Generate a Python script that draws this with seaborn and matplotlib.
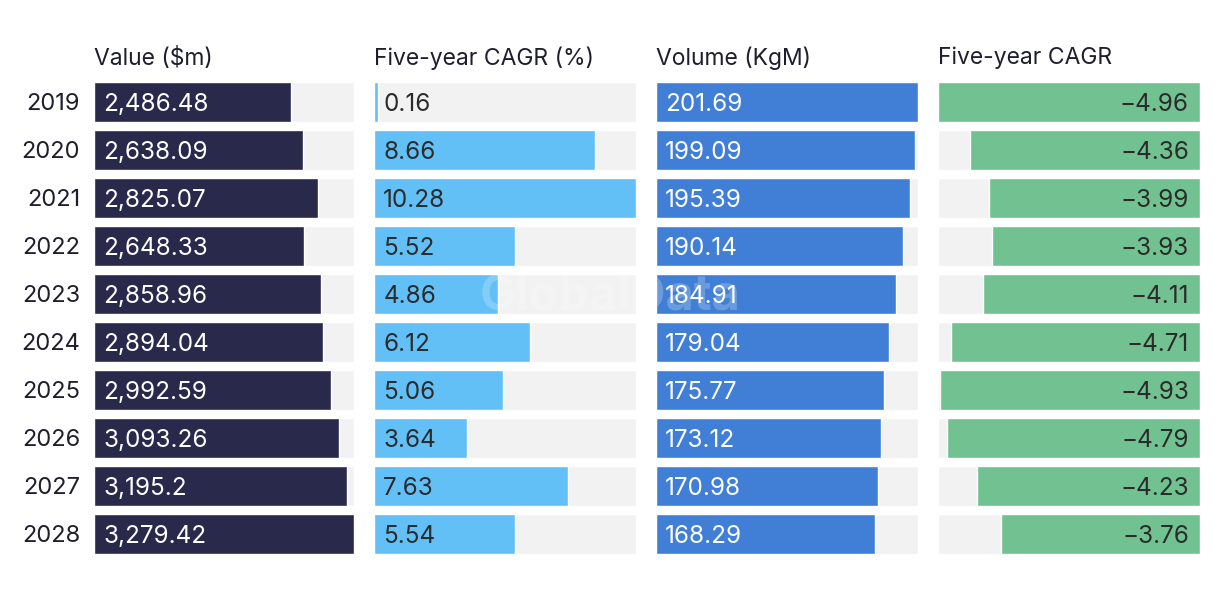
import matplotlib
matplotlib.use("Agg")
import matplotlib.pyplot as plt
import seaborn as sns
import pandas as pd

years = ["2019", "2020", "2021", "2022", "2023", "2024", "2025", "2026", "2027", "2028"]
value_m = [2486.48, 2638.09, 2825.07, 2648.33, 2858.96, 2894.04, 2992.59, 3093.26, 3195.2, 3279.42]
value_labels = ["2,486.48", "2,638.09", "2,825.07", "2,648.33", "2,858.96", "2,894.04",
                "2,992.59", "3,093.26", "3,195.2", "3,279.42"]
value_cagr = [0.16, 8.66, 10.28, 5.52, 4.86, 6.12, 5.06, 3.64, 7.63, 5.54]
volume = [201.69, 199.09, 195.39, 190.14, 184.91, 179.04, 175.77, 173.12, 170.98, 168.29]
volume_cagr = [-4.96, -4.36, -3.99, -3.93, -4.11, -4.71, -4.93, -4.79, -4.23, -3.76]

titles = ["Value ($m)", "Five-year CAGR (%)", "Volume (KgM)", "Five-year CAGR"]
colors = ["#29294c", "#62c0f7", "#417fd6", "#72c291"]
text_colors = ["white", "#2b2b2b", "white", "#2b2b2b"]

sns.set_theme(style="white")
plt.rcParams["font.family"] = ["Inter", "DejaVu Sans"]

W, H = 1220, 596
fig = plt.figure(figsize=(W / 100, H / 100), dpi=100)

lefts = [94, 374, 656, 938]
widths = [260, 262, 262, 262]
ax_top = 78
ax_bot = 558

series = [
    (value_m, value_labels),
    (value_cagr, [f"{v:.2f}" for v in value_cagr]),
    (volume, [f"{v:.2f}" for v in volume]),
    (volume_cagr, [f"\u2212{abs(v):.2f}" for v in volume_cagr]),
]

for i, ((vals, labels), title) in enumerate(zip(series, titles)):
    ax = fig.add_axes([lefts[i] / W, (H - ax_bot) / H, widths[i] / W, (ax_bot - ax_top) / H])
    neg = i == 3
    full = min(vals) if neg else max(vals)
    df = pd.DataFrame({"year": years, "v": vals, "bg": [full] * len(vals)})
    sns.barplot(data=df, x="bg", y="year", orient="h", color="#f2f2f2",
                width=40 / 48, ax=ax, saturation=1)
    sns.barplot(data=df, x="v", y="year", orient="h", color=colors[i],
                width=40 / 48, ax=ax, saturation=1)
    if neg:
        ax.set_xlim(full, 0)
    else:
        ax.set_xlim(0, full)
    ax.set_ylim(9.5, -0.5)
    for j, lab in enumerate(labels):
        if neg:
            ax.text(0.958, j, lab, transform=ax.get_yaxis_transform(), ha="right",
                    va="center_baseline", fontsize=17.5, color=text_colors[i])
        else:
            ax.text(0.035, j, lab, transform=ax.get_yaxis_transform(), ha="left",
                    va="center_baseline", fontsize=17.5, color=text_colors[i])
    ax.set_xlabel("")
    ax.set_ylabel("")
    ax.set_xticks([])
    if i == 0:
        ax.set_yticks(range(len(years)))
        ax.set_yticklabels(years, fontsize=17, color="#1e1e2e")
        ax.tick_params(axis="y", length=0, pad=10)
    else:
        ax.set_yticks([])
    for s in ax.spines.values():
        s.set_visible(False)
    ax.set_facecolor("none")
    fig.text(lefts[i] / W, 1 - 58 / H, title, ha="left", va="center",
             fontsize=16.5, color="#1e1e2e")

fig.text(610 / W, 1 - 297 / H, "GlobalData", ha="center", va="center",
         fontsize=35, fontweight="bold", color="white", alpha=0.22)

fig.savefig("out.png", dpi=100)
